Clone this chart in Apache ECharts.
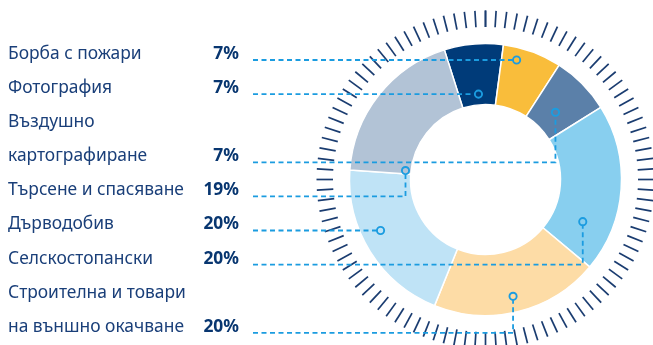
<!DOCTYPE html>
<html>
<head>
<meta charset="utf-8">
<script src="https://cdn.jsdelivr.net/npm/echarts@6/dist/echarts.min.js"></script>
<style>
  html, body { margin: 0; padding: 0; background: #ffffff; }
  #chart { width: 653px; height: 345px; }
</style>
</head>
<body>
<div id="chart"></div>
<script>
// Legend rows, top to bottom (\n marks a wrapped label)
const categories = [
  'Борба с пожари',
  'Фотография',
  'Въздушно\nкартографиране',
  'Търсене и спасяване',
  'Дърводобив',
  'Селскостопански',
  'Строителна и товари\nна външно окачване'
];
// Share of each field, %
const shares = [7, 7, 7, 19, 20, 20, 20];
// Order of the slices around the ring, clockwise (indices into categories)
const ringOrder = [1, 0, 2, 5, 6, 4, 3];

// Styling
const sliceColors = ['#f9bd3b', '#003b79', '#5b80a9', '#b2c3d6', '#bfe3f6', '#88cfef', '#fddca6'];
const textColor = '#1a3f79';
const valueColor = '#083670';
const leaderColor = '#1b9ce0';
const tickColor = '#1a3c70';
const fontFamily = '"Noto Sans", "Open Sans", sans-serif';

// Layout
const ringCenter = [485.5, 179.5];
const rowTop = 54;
const rowStep = 34.1;
const labelX = 8;
const valueRightX = 239;
const leaderStartX = 253;
const leaderDrop = 6;
// Where each leader touches its slice: fraction across the slice, radius, elbow or straight
const anchors = [
  { frac: 0.28, r: 123, bend: false },
  { frac: 0.51, r: 85, bend: false },
  { frac: 0.53, r: 97, bend: true },
  { frac: 0.035, r: 80.5, bend: true },
  { frac: 0.58, r: 117, bend: false },
  { frac: 0.77, r: 106, bend: true },
  { frac: 0.51, r: 120, bend: true }
];

const chart = echarts.init(document.getElementById('chart'), null, { renderer: 'canvas' });

const pieData = ringOrder.map(i => ({
  name: categories[i].replace('\n', ' '),
  value: shares[i],
  itemStyle: { color: sliceColors[i] }
}));

chart.setOption({
  animation: false,
  series: [
    {
      type: 'gauge',
      center: ringCenter,
      radius: 169,
      startAngle: 90,
      endAngle: -270,
      min: 0,
      max: 100,
      splitNumber: 100,
      silent: true,
      axisLine: { show: false, lineStyle: { width: 0 } },
      splitLine: { show: true, length: 16.5, distance: 0, lineStyle: { color: tickColor, width: 1.7 } },
      axisTick: { show: false },
      axisLabel: { show: false },
      pointer: { show: false },
      anchor: { show: false },
      title: { show: false },
      detail: { show: false },
      progress: { show: false },
      data: [{ value: 0 }]
    },
    {
      type: 'pie',
      center: ringCenter,
      radius: [75, 136],
      startAngle: 107.6,
      clockwise: true,
      silent: true,
      label: { show: false },
      labelLine: { show: false },
      itemStyle: { borderColor: '#ffffff', borderWidth: 1.5 },
      emphasis: { disabled: true },
      data: pieData
    }
  ]
});

// Read the slice geometry the pie series laid out
function sliceLayouts() {
  let out = null;
  try {
    const data = chart.getModel().getSeriesByIndex(1).getData();
    out = ringOrder.map((_, k) => data.getItemLayout(k));
  } catch (e) { out = null; }
  if (!out || out.some(l => !l)) {
    const total = shares.reduce((a, b) => a + b, 0);
    let a = -107.6 * Math.PI / 180;
    out = ringOrder.map(i => {
      const span = shares[i] / total * Math.PI * 2;
      const l = { startAngle: a, endAngle: a + span, cx: ringCenter[0], cy: ringCenter[1], r: 136, r0: 75 };
      a += span;
      return l;
    });
  }
  return out;
}

const layouts = sliceLayouts();
const graphics = [];
let row = 0;
categories.forEach((label, i) => {
  const lines = label.split('\n');
  lines.forEach((ln, j) => {
    graphics.push({
      type: 'text',
      silent: true,
      style: {
        text: ln, x: labelX, y: rowTop + (row + j) * rowStep,
        font: '17.4px ' + fontFamily, fill: textColor, verticalAlign: 'middle', align: 'left'
      }
    });
  });
  const lastRowY = rowTop + (row + lines.length - 1) * rowStep;
  graphics.push({
    type: 'text',
    silent: true,
    style: {
      text: shares[i] + '%', x: valueRightX, y: lastRowY,
      font: 'bold 17.4px ' + fontFamily, fill: valueColor, verticalAlign: 'middle', align: 'right'
    }
  });

  // leader from the row to its slice
  const L = layouts[ringOrder.indexOf(i)];
  const an = anchors[i];
  const ang = L.startAngle + an.frac * (L.endAngle - L.startAngle);
  const px = L.cx + an.r * Math.cos(ang);
  const lineY = lastRowY + leaderDrop;
  const py = an.bend ? L.cy + an.r * Math.sin(ang) : lineY;
  const pts = [[leaderStartX, lineY], [px, lineY]];
  if (an.bend) pts.push([px, py + (py < lineY ? 3.6 : -3.6)]);
  else pts[1][0] = px - 3.6;
  graphics.push({
    type: 'polyline', silent: true, z: 10,
    shape: { points: pts },
    style: { stroke: leaderColor, lineWidth: 1.8, lineDash: [5, 3.5], fill: null }
  });
  graphics.push({
    type: 'circle', silent: true, z: 11,
    shape: { cx: px, cy: py, r: 3.6 },
    style: { stroke: leaderColor, lineWidth: 1.9, fill: null }
  });
  row += lines.length;
});

chart.setOption({ graphic: graphics });
</script>
</body>
</html>
